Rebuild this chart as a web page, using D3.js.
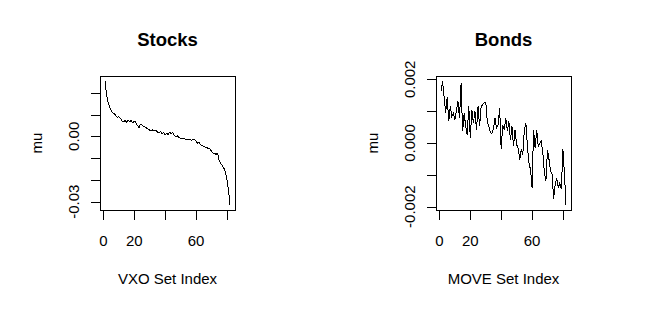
<!DOCTYPE html>
<html><head><meta charset="utf-8">
<script src="https://cdn.jsdelivr.net/npm/d3@7"></script>
<style>body{margin:0;background:#fff}svg{display:block}text{font-family:"Liberation Sans",Arial,sans-serif}</style>
</head><body>
<svg id="c" width="672" height="310"></svg>
<script>
const stocksMu = [0.0254,0.0190,0.0158,0.0135,0.0118,0.0108,0.0105,0.0095,0.0088,0.0090,
0.0083,0.0070,0.0068,0.0072,0.0066,0.0075,0.0068,0.0072,0.0062,0.0070,
0.0064,0.0050,0.0040,0.0055,0.0052,0.0046,0.0042,0.0038,0.0034,0.0028,
0.0026,0.0030,0.0025,0.0027,0.0020,0.0016,0.0022,0.0012,0.0018,0.0007,
0.0014,0.0008,0.0020,0.0012,0.0018,0.0004,-0.0002,0.0002,-0.0006,-0.0010,
-0.0012,-0.0008,-0.0014,-0.0013,-0.0016,-0.0014,-0.0018,-0.0015,-0.0016,-0.0022,
-0.0031,-0.0028,-0.0038,-0.0043,-0.0045,-0.0050,-0.0052,-0.0055,-0.0058,-0.0068,
-0.0076,-0.0079,-0.0082,-0.0078,-0.0112,-0.0125,-0.0134,-0.0145,-0.0165,-0.0195,
-0.0245,-0.0315];
const bondsMu = [0.001615,0.001948,0.001458,0.000958,0.001438,0.000677,0.001146,0.000833,0.000938,0.000729,
0.001042,0.001302,0.000781,0.001875,0.000365,0.000938,0.000521,0.000260,0.001146,0.000156,
0.001042,0.000625,0.000990,0.000417,0.001146,0.000521,0.001146,0.001198,0.001271,0.001281,
0.000677,0.000521,0.000333,0.000292,0.000469,0.000781,0.000469,0.000573,0.001094,-0.000188,
0.000573,0.000417,0.000781,0.000365,0.000677,0.000104,0.000521,-0.000104,0.000417,-0.000052,
-0.000156,-0.000521,-0.000208,-0.000365,0.000417,0.000625,-0.000104,-0.000625,-0.000833,-0.001406,
0.000417,-0.000156,0.000417,-0.000104,0.000000,0.000052,-0.000313,-0.000938,-0.001198,-0.000208,
-0.000521,-0.000885,-0.000990,-0.001750,-0.001302,-0.001094,-0.001406,-0.001250,-0.001458,-0.000188,
-0.000990,-0.001948];
const xTicks = [0,20,40,60,80];
const xTickLabels = ["0","20","","60",""];
const stocksYTicks = [-0.03,-0.02,-0.01,0.00,0.01,0.02];
const stocksYLabels = ["-0.03","","","0.00","",""];
const bondsYTicks = [-0.002,-0.001,0.000,0.001,0.002];
const bondsYLabels = ["-0.002","","0.000","","0.002"];

const svg = d3.select("#c");
function rExt(ext){const d=(ext[1]-ext[0])*0.04;return [ext[0]-d, ext[1]+d];}

function panel(o){
  const g = svg.append("g");
  const n = o.data.length;
  const x = d3.scaleLinear().domain(rExt([1,n])).range([o.left,o.left+135]);
  const y = d3.scaleLinear().domain(rExt(d3.extent(o.data))).range([210,76]);
  const line = d3.line().x((d,i)=>x(i+1)).y(d=>y(d));
  g.append("path").datum(o.data).attr("d",line).attr("fill","none").attr("stroke","#000").attr("stroke-width",1).attr("shape-rendering","crispEdges");
  g.append("rect").attr("x",o.left+0.5).attr("y",76.5).attr("width",135).attr("height",134)
    .attr("fill","none").attr("stroke","#000").attr("stroke-width",1);
  // x axis
  const xa = g.append("g").attr("transform","translate(0,210.5)");
  xa.append("line").attr("x1",Math.round(x(xTicks[0]))+0.5).attr("x2",Math.round(x(xTicks[xTicks.length-1]))+0.5).attr("stroke","#000");
  xTicks.forEach((t,i)=>{
    const px=Math.round(x(t))+0.5;
    xa.append("line").attr("x1",px).attr("x2",px).attr("y1",0).attr("y2",9.5).attr("stroke","#000");
    if(xTickLabels[i]) xa.append("text").attr("x",x(t)).attr("y",35).attr("text-anchor","middle").attr("font-size",15).text(xTickLabels[i]);
  });
  // y axis
  const ya = g.append("g").attr("transform",`translate(${o.left+0.5},0)`);
  ya.append("line").attr("y1",Math.round(y(o.yTicks[0]))+0.5).attr("y2",Math.round(y(o.yTicks[o.yTicks.length-1]))+0.5).attr("stroke","#000");
  o.yTicks.forEach((t,i)=>{
    const py=Math.round(y(t))+0.5;
    ya.append("line").attr("x1",0).attr("x2",-9.5).attr("y1",py).attr("y2",py).attr("stroke","#000");
    if(o.yLabels[i]) ya.append("text").attr("transform",`translate(-22,${y(t)}) rotate(-90)`).attr("text-anchor","middle").attr("font-size",15).text(o.yLabels[i]);
  });
  g.append("text").attr("x",o.left+67.5).attr("y",46).attr("text-anchor","middle").attr("font-size",18.5).attr("font-weight","bold").text(o.title);
  g.append("text").attr("x",o.left+67.5).attr("y",284).attr("text-anchor","middle").attr("font-size",15).text(o.xlab);
  g.append("text").attr("transform",`translate(${o.left-58},143) rotate(-90)`).attr("text-anchor","middle").attr("font-size",15).text("mu");
}
panel({data:stocksMu,left:100,title:"Stocks",xlab:"VXO Set Index",yTicks:stocksYTicks,yLabels:stocksYLabels});
panel({data:bondsMu,left:436,title:"Bonds",xlab:"MOVE Set Index",yTicks:bondsYTicks,yLabels:bondsYLabels});
</script>
</body></html>
